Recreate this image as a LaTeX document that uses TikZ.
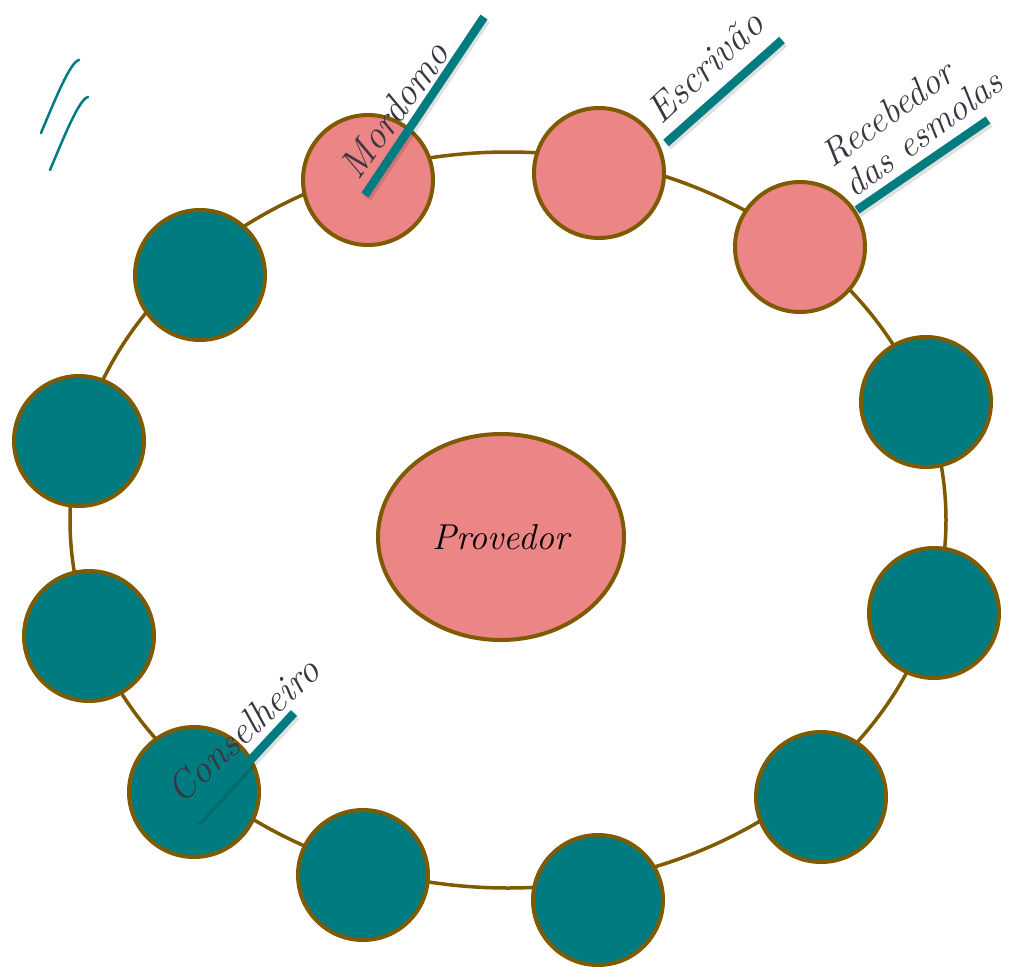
\documentclass[tikz,border=0pt]{standalone}
\usepackage{fontspec}
\usetikzlibrary{shapes.geometric}
\definecolor{ringbrown}{HTML}{7F5A00}
\definecolor{rosa}{HTML}{EC8585}
\definecolor{petrol}{HTML}{007C80}
\definecolor{labelgray}{HTML}{3B3541}
\begin{document}
\begin{tikzpicture}[x=1pt,y=-1pt,
  ring/.style={draw=ringbrown, line width=3.5pt},
  officer/.style={circle, draw=ringbrown, line width=4pt, fill=rosa, minimum size=130pt, inner sep=0pt},
  member/.style={circle, draw=ringbrown, line width=4pt, fill=petrol, minimum size=130pt, inner sep=0pt},
  stick/.style={draw=petrol, line width=8.5pt},
  stickshadow/.style={draw=black, opacity=0.12, line width=9pt},
  lbl/.style={text=labelgray, font=\itshape\fontsize{39}{38}\selectfont, inner sep=0pt},
  pencilmark/.style={draw=petrol, line width=2.5pt, line cap=round}
]
\useasboundingbox (0,0) rectangle (1018,967);

% ring
\draw[ring] (508,520) ellipse [x radius=438, y radius=368];

% circles
\node[officer] (mordomo) at (368,180) {};
\node[officer] (escrivao) at (599,173) {};
\node[officer] (recebedor) at (800,247) {};
\node[member] (m1) at (926,402) {};
\node[member] (m2) at (934,613) {};
\node[member] (m3) at (821,797) {};
\node[member] (m4) at (598,900) {};
\node[member] (m5) at (363,875) {};
\node[member] (conselheiro) at (194,792) {};
\node[member] (m7) at (89,636) {};
\node[member] (m8) at (79,441) {};
\node[member] (m9) at (200,275) {};

% provedor
\node[ellipse, draw=ringbrown, line width=4pt, fill=rosa, minimum width=246pt, minimum height=206pt, inner sep=0pt,
      font=\itshape\fontsize{36}{40}\selectfont] (provedor) at (501,537) {Provedor};

% label sticks
\coordinate (s1a) at (365,195); \coordinate (s1b) at (484,17);
\coordinate (s2a) at (666,143); \coordinate (s2b) at (782,40);
\coordinate (s3a) at (857,210); \coordinate (s3b) at (988,120);
\coordinate (s4a) at (195,820); \coordinate (s4b) at (294,713);
\foreach \a/\b in {s1a/s1b,s2a/s2b,s3a/s3b,s4a/s4b}{
  \draw[stickshadow] ([shift={(2,3)}]\a) -- ([shift={(2,3)}]\b);
  \draw[stick] (\a) -- (\b);
}

% labels
\node[lbl, rotate=54] (lmordomo) at (394,110) {Mordomo};
\node[lbl, rotate=43] (lescrivao) at (705,67) {Escrivão};
\node[lbl, rotate=36, align=left, font=\itshape\fontsize{37}{37}\selectfont] (lrecebedor) at (912,118) {Recebedor\\das esmolas};
\node[lbl, rotate=43] (lconselheiro) at (243,730) {Conselheiro};

% top-left marks
\draw[pencilmark] (41,133) .. controls (55,100) and (70,62) .. (79,60);
\draw[pencilmark] (50,170) .. controls (64,137) and (79,99) .. (88,97);
\end{tikzpicture}
\end{document}
